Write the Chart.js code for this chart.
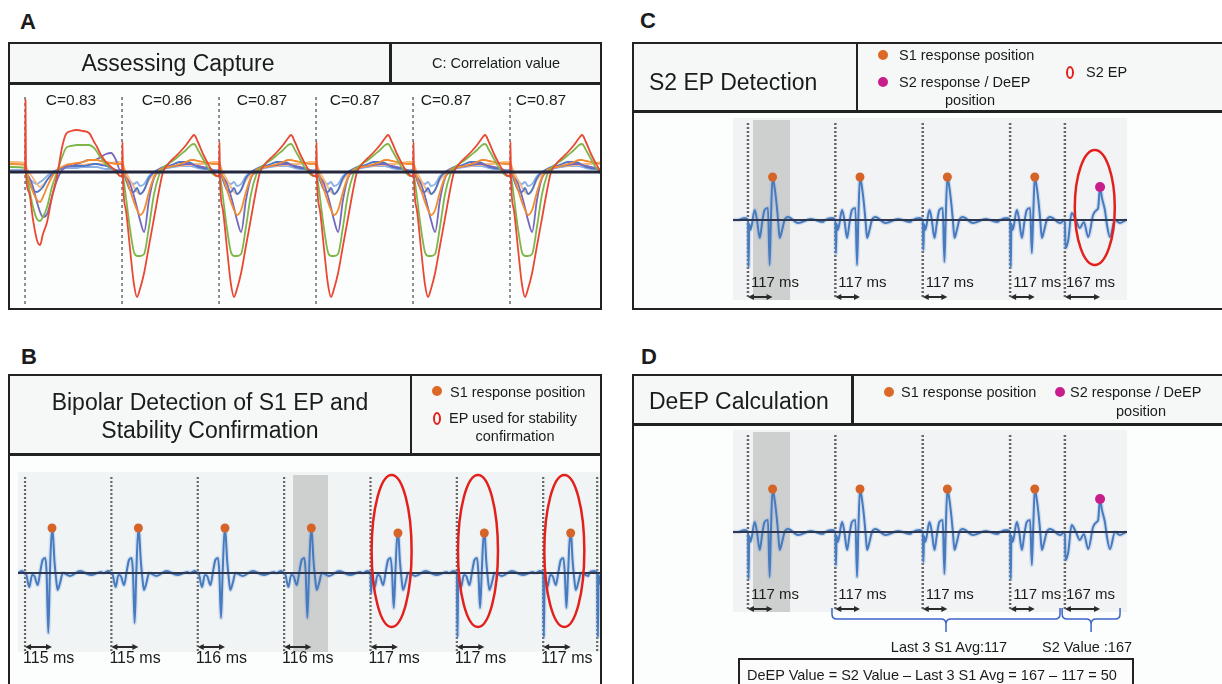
<!DOCTYPE html>
<html lang="en">
<head>
<meta charset="utf-8">
<title>EP detection steps</title>
<script src="https://cdn.jsdelivr.net/npm/chart.js"></script>
<style>
  body { margin: 0; background: #fff; font-family: "Liberation Sans", Arial, sans-serif; color: #1b1b1b; }
  #fig { position: relative; width: 1222px; height: 684px; overflow: hidden; }
  #fig div, #fig canvas { position: absolute; }
  .bg { background: #fcfdfd; }
  .hd { background: #f6f8f8; }
  .frame { border: 2.5px solid #222; box-sizing: border-box; }
  .ln { background: #222; }
  .t { white-space: nowrap; }
  .c { transform: translateX(-50%); }
  .panel { font-weight: bold; font-size: 22px; line-height: 26px; }
  .title { font-size: 23px; line-height: 28px; }
  .small { font-size: 14.5px; line-height: 18px; }
  .dot { border-radius: 50%; width: 10px; height: 10px; }
  .ring { border: 2.5px solid #e3211c; border-radius: 50%; width: 8px; height: 13px; box-sizing: border-box; }
</style>
</head>
<body>
<div id="fig">
  <!-- panel backgrounds -->
  <div class="bg" style="left:8px;top:42px;width:594px;height:268px"></div>
  <div class="hd" style="left:8px;top:42px;width:594px;height:42px"></div>
  <div class="bg" style="left:632px;top:42px;width:600px;height:268px"></div>
  <div class="hd" style="left:632px;top:42px;width:600px;height:70px"></div>
  <div class="bg" style="left:8px;top:374px;width:594px;height:330px"></div>
  <div class="hd" style="left:8px;top:374px;width:594px;height:81px"></div>
  <div class="bg" style="left:632px;top:374px;width:600px;height:330px"></div>
  <div class="hd" style="left:632px;top:374px;width:600px;height:51px"></div>

  <canvas id="cA" width="590" height="222" style="left:10px;top:85px"></canvas>
  <canvas id="cB" width="582" height="198" style="left:18px;top:472px"></canvas>
  <canvas id="cC" width="394" height="182" style="left:733px;top:118px"></canvas>
  <canvas id="cD" width="394" height="210" style="left:733px;top:430px"></canvas>

  <!-- frames -->
  <div class="frame" style="left:8px;top:42px;width:594px;height:268px"></div>
  <div class="ln" style="left:8px;top:82px;width:594px;height:2.5px"></div>
  <div class="ln" style="left:389px;top:42px;width:2.5px;height:42px"></div>

  <div class="frame" style="left:632px;top:42px;width:600px;height:268px"></div>
  <div class="ln" style="left:632px;top:110px;width:600px;height:2.5px"></div>
  <div class="ln" style="left:855.5px;top:42px;width:2.5px;height:70px"></div>

  <div class="frame" style="left:8px;top:374px;width:594px;height:330px"></div>
  <div class="ln" style="left:8px;top:453px;width:594px;height:2.5px"></div>
  <div class="ln" style="left:409.5px;top:374px;width:2.5px;height:81px"></div>

  <div class="frame" style="left:632px;top:374px;width:600px;height:330px"></div>
  <div class="ln" style="left:632px;top:423px;width:600px;height:2.5px"></div>
  <div class="ln" style="left:851px;top:374px;width:2.5px;height:51px"></div>

  <div class="frame" style="left:738px;top:658px;width:396px;height:40px;background:#fcfcfc"></div>

  <!-- panel letters -->
  <div class="t panel" style="left:20px;top:9px">A</div>
  <div class="t panel" style="left:21px;top:344px">B</div>
  <div class="t panel" style="left:640px;top:8px">C</div>
  <div class="t panel" style="left:641px;top:344px">D</div>

  <!-- A header -->
  <div class="t title c" style="left:178px;top:49px">Assessing Capture</div>
  <div class="t small c" style="left:496px;top:54px">C: Correlation value</div>

  <!-- C header -->
  <div class="t title" style="left:649px;top:68px">S2 EP Detection</div>
  <div class="dot" style="left:878px;top:50px;background:rgb(220,105,40)"></div>
  <div class="t small" style="left:899px;top:46px">S1 response position</div>
  <div class="dot" style="left:878px;top:77px;background:rgb(200,30,140)"></div>
  <div class="t small" style="left:899px;top:73px">S2 response / DeEP</div>
  <div class="t small c" style="left:970px;top:91px">position</div>
  <div class="ring" style="left:1066px;top:65.5px"></div>
  <div class="t small" style="left:1086px;top:63px">S2 EP</div>

  <!-- B header -->
  <div class="t title c" style="left:210px;top:388px">Bipolar Detection of S1 EP and</div>
  <div class="t title c" style="left:210px;top:416px">Stability Confirmation</div>
  <div class="dot" style="left:432px;top:386px;background:rgb(220,105,40)"></div>
  <div class="t small" style="left:450px;top:383px">S1 response position</div>
  <div class="ring" style="left:433px;top:411.5px"></div>
  <div class="t small" style="left:449px;top:409px">EP used for stability</div>
  <div class="t small c" style="left:515px;top:427px">confirmation</div>

  <!-- D header -->
  <div class="t title" style="left:649px;top:387px">DeEP Calculation</div>
  <div class="dot" style="left:884px;top:387px;background:rgb(220,105,40)"></div>
  <div class="t small" style="left:901px;top:383px">S1 response position</div>
  <div class="dot" style="left:1055px;top:387px;background:rgb(200,30,140)"></div>
  <div class="t small" style="left:1070px;top:383px">S2 response / DeEP</div>
  <div class="t small c" style="left:1141px;top:402px">position</div>

  <div class="t small c" style="left:949px;top:638px">Last 3 S1 Avg:117</div>
  <div class="t small c" style="left:1087px;top:638px">S2 Value :167</div>
  <div class="t small" style="left:747px;top:666px">DeEP Value = S2 Value – Last 3 S1 Avg = 167 – 117 = 50</div>
</div>

<script>
// ---------- Panel A: overlaid unipolar electrograms, 6 paced beats ----------
const stimA = [0, 400, 800, 1200, 1600, 2000];
const corrA = [0.83, 0.86, 0.87, 0.87, 0.87, 0.87];
const tA = [0, 2, 4, 16, 33, 49, 62, 74, 91, 111, 132, 153, 169, 190, 214, 239, 264, 285, 297, 313, 334, 355, 375, 392];
const redFirst    = [0, 72, -2, -20, -48, -68, -73, -62, -50, -25, -4, 25, 38, 41, 42, 41, 39, 30, 25, 17, 10, 5, 1, -4];
const redBeat     = [-4, 30, -8, -38, -77, -112, -125, -117, -101, -74, -46, -18, 0, 8, 14, 20, 27, 34, 37, 30, 18, 8, 0, -4];
const greenFirst  = [4, 3, 0, -15, -35, -47, -49, -45, -35, -15, 0, 15, 24, 26, 27, 27, 27, 24, 20, 14, 8, 4, 0, -4];
const greenBeat   = [-4, -2, -4, -25, -57, -80, -84, -84, -82, -55, -22, -3, 4, 8, 12, 17, 22, 27, 28, 22, 13, 4, -2, -4];
const orangeFirst = [7, 6, 4, -8, -20, -28, -30, -25, -15, -5, 2, 5, 7, 8, 9, 10, 12, 12, 12, 11, 10, 9, 8, 8];
const orangeBeat  = [8, 8, 6, -5, -18, -30, -38, -43, -38, -20, -5, 2, 4, 5, 6, 8, 10, 12, 12, 11, 10, 9, 8, 8];
const peachFirst  = [9, 8, 6, 0, -6, -12, -15, -13, -8, -3, 2, 5, 6, 6, 7, 7, 8, 8, 8, 8, 8, 9, 10, 10];
const peachBeat   = [10, 10, 8, 0, -8, -15, -20, -22, -18, -8, -2, 2, 4, 5, 6, 6, 7, 7, 8, 8, 8, 9, 10, 10];
const purpleFirst = [0, 0, -1, -5, -15, -30, -40, -45, -42, -25, -8, 2, 5, 6, 8, 10, 12, 12, 13, 15, 18, 19, 12, 2];
const purpleBeat  = [2, 0, -1, -5, -12, -24, -36, -48, -60, -28, -6, 0, 3, 5, 6, 7, 8, 8, 7, 6, 5, 4, 2, 0];
const blueFirst   = [0, 0, 0, -10, -18, -20, -18, -15, -8, -2, 2, 4, 6, 6, 6, 6, 7, 8, 8, 7, 6, 4, 2, 0];
const blueBeat    = [0, 0, 0, -8, -18, -20, -16, -22, -18, -6, 0, 3, 5, 6, 8, 10, 10, 9, 7, 5, 4, 3, 1, 0];
const skyFirst    = [2, 2, 0, -6, -10, -12, -10, -8, -4, 0, 2, 3, 4, 4, 4, 5, 5, 5, 5, 4, 3, 3, 2, 2];
const skyBeat     = [2, 2, 0, -5, -10, -12, -10, -14, -12, -4, 0, 2, 3, 4, 5, 6, 6, 6, 5, 4, 3, 3, 2, 2];
const preA = [0, 5, 8, 10, 0, 0, 2];

// ---------- Panel B: bipolar EP, 7 S1 beats + start of S2 ----------
const stimB = [0, 368, 736, 1104, 1472, 1840, 2208, 2438];
const latB = [115, 115, 116, 116, 117, 117, 117];
const tB = [-34, -13, 0, 3, 6, 18, 30, 40, 54, 64, 75, 86, 92, 99, 106, 115, 119, 125, 132, 139, 149, 161, 192, 234, 281, 324];
const beatB = [0, 2, 0, -50, -2, -14, -2, -3, -12, 0, 13, 15, 0, -38, 0, 45, 38, 13, -5, -17, -10, 0, -3, 2, -2, 1];
const artB = [0, 0, 0, 0, -20, -64, -64, -64];
const troughB = [-60, -50, -45, -45, -35, -35, -35, -35];
const peakB = [45, 45, 45, 45, 40, 40, 40, 40];
const stableB = [4, 5, 6];
const shadeB = [3];

// ---------- Panels C and D: 4 S1 beats + S2 ----------
const stimC = [0, 415, 830, 1245, 1505];
const latC = [117, 117, 117, 117, 167];
const tS1 = [-48, -14, 0, 3, 6, 12, 32, 43, 56, 67, 79, 95, 103, 109, 117, 124, 134, 143, 151, 162, 174, 190, 238, 299, 356];
const beatS1 = [0, 2, 0, -48, -4, -10, 10, 0, -18, -3, 10, 12, -45, 0, 43, 36, 20, 0, -18, -10, 0, 3, -3, 1, -2];
const artC = [-47, -33, -30, -47];
const troughC = [-45, -45, -42, -33];
const tS2 = [0, 3, 16, 32, 52, 71, 90, 111, 134, 151, 158, 167, 176, 190, 200, 214, 238, 261, 295, 333];
const beatS2 = [0, -28, -20, 7, 0, -8, -2, -17, 5, 10, 12, 33, 22, 10, -5, -17, 0, -3, 0, -2];
const s2Beat = 4;
const shadeC = [0];
const bracketD = [[399, 1482], [1492, 1767]];

// ---------- helpers ----------
function traceA(first, rest, pre, xmin) {
  const pts = [{ x: xmin, y: pre }];
  stimA.forEach((s, b) => {
    const vals = b === 0 ? first : rest;
    tA.forEach((t, i) => pts.push({ x: s + t, y: vals[i] }));
  });
  return pts;
}

function epTrace(stims, shapes, xmin) {
  const pts = [{ x: xmin, y: 0 }];
  stims.forEach((s, b) => {
    const [offs, vals] = shapes[b];
    const stop = b + 1 < stims.length ? stims[b + 1] + shapes[b + 1][0][0] : Infinity;
    offs.forEach((t, i) => { if (s + t < stop) pts.push({ x: s + t, y: vals[i] }); });
  });
  return pts;
}

function line(data, color, width, order, dash) {
  return { data, showLine: true, borderColor: color, borderWidth: width, pointRadius: 0, order,
    borderDash: dash || [], borderJoinStyle: 'round' };
}

function signal(data, color, width, order) {
  return Object.assign(line(data, color, width, order), { cubicInterpolationMode: 'monotone' });
}

function opts(xmin, xmax, ymin, ymax) {
  return {
    responsive: false, animation: false, devicePixelRatio: 1,
    layout: { padding: 0, autoPadding: false },
    plugins: { legend: { display: false }, tooltip: { enabled: false } },
    scales: {
      x: { type: 'linear', min: xmin, max: xmax, display: false },
      y: { type: 'linear', min: ymin, max: ymax, display: false }
    },
    elements: { line: { tension: 0 } }
  };
}

function overlay(cfg) {
  return {
    id: 'overlay',
    beforeDatasetsDraw(chart) {
      const { ctx, chartArea: a, scales: { x, y } } = chart;
      ctx.save();
      if (cfg.backdrop) {
        const t = y.getPixelForValue(cfg.backdrop.top), b = y.getPixelForValue(cfg.backdrop.bottom);
        ctx.fillStyle = cfg.backdrop.color;
        ctx.fillRect(a.left, t, a.right - a.left, b - t);
      }
      if (cfg.shade) {
        const t = y.getPixelForValue(cfg.shade.top), b = y.getPixelForValue(cfg.shade.bottom);
        ctx.fillStyle = 'rgba(198,198,198,0.8)';
        cfg.shade.spans.forEach(([x0, x1]) => {
          const p0 = x.getPixelForValue(x0), p1 = x.getPixelForValue(x1);
          ctx.fillRect(p0, t, p1 - p0, b - t);
        });
      }
      ctx.restore();
    },
    afterDatasetsDraw(chart) {
      const { ctx, scales: { x, y } } = chart;
      ctx.save();
      if (cfg.rings) {
        ctx.strokeStyle = '#e3211c';
        ctx.lineWidth = 2.5;
        cfg.rings.items.forEach(([cx, cy]) => {
          ctx.beginPath();
          ctx.ellipse(x.getPixelForValue(cx), y.getPixelForValue(cy), cfg.rings.rx, cfg.rings.ry, 0, 0, Math.PI * 2);
          ctx.stroke();
        });
      }
      if (cfg.arrows) {
        const yy = y.getPixelForValue(cfg.arrows.y);
        ctx.strokeStyle = ctx.fillStyle = '#2a2a2a';
        ctx.lineWidth = 2;
        cfg.arrows.items.forEach(([x0, x1]) => {
          const p0 = x.getPixelForValue(x0), p1 = x.getPixelForValue(x1);
          ctx.beginPath(); ctx.moveTo(p0 + 3, yy); ctx.lineTo(p1 - 3, yy); ctx.stroke();
          [[p0, -1], [p1, 1]].forEach(([pe, d]) => {
            ctx.beginPath(); ctx.moveTo(pe, yy); ctx.lineTo(pe - d * 6, yy - 3); ctx.lineTo(pe - d * 6, yy + 3); ctx.closePath(); ctx.fill();
          });
        });
      }
      if (cfg.labels) {
        const L = cfg.labels;
        ctx.fillStyle = '#1b1b1b';
        ctx.font = L.font;
        ctx.textAlign = L.align;
        ctx.textBaseline = 'middle';
        L.items.forEach(([xv, text, dx]) => ctx.fillText(text, x.getPixelForValue(xv) + dx, y.getPixelForValue(L.y)));
      }
      if (cfg.brackets) {
        const B = cfg.brackets, r = 5;
        const yt = y.getPixelForValue(B.top), ym = y.getPixelForValue(B.mid), yb = y.getPixelForValue(B.bot);
        ctx.strokeStyle = 'rgb(60,100,200)';
        ctx.lineWidth = 1.5;
        B.items.forEach(([x0, x1]) => {
          const p0 = x.getPixelForValue(x0), p1 = x.getPixelForValue(x1), pc = (p0 + p1) / 2;
          ctx.beginPath();
          ctx.moveTo(p0, yt); ctx.lineTo(p0, ym - r); ctx.quadraticCurveTo(p0, ym, p0 + r, ym);
          ctx.lineTo(pc - r, ym); ctx.quadraticCurveTo(pc, ym, pc, ym + r); ctx.lineTo(pc, yb);
          ctx.moveTo(p1, yt); ctx.lineTo(p1, ym - r); ctx.quadraticCurveTo(p1, ym, p1 - r, ym);
          ctx.lineTo(pc + r, ym); ctx.quadraticCurveTo(pc, ym, pc, ym + r);
          ctx.stroke();
        });
      }
      ctx.restore();
    }
  };
}

// ---------- Panel A ----------
const curvesA = [
  [redFirst, redBeat, 'rgb(232,72,52)'],
  [greenFirst, greenBeat, 'rgb(128,182,72)'],
  [orangeFirst, orangeBeat, 'rgb(242,140,48)'],
  [purpleFirst, purpleBeat, 'rgb(118,104,188)'],
  [blueFirst, blueBeat, 'rgb(78,118,200)'],
  [peachFirst, peachBeat, 'rgb(246,186,130)'],
  [skyFirst, skyBeat, 'rgb(140,175,228)']
];
const preOrder = [0, 1, 2, 4, 5, 3, 6];
const dsA = curvesA.map(([f, r, col], i) => signal(traceA(f, r, preA[preOrder[i]], -62), col, 1.8, i + 1));
dsA.push(line([{ x: -62, y: 0 }, { x: 2371, y: 0 }], 'rgb(35,38,60)', 3, 0));
stimA.forEach(s => dsA.push(line([{ x: s, y: 75 }, { x: s, y: -135 }], '#6a6a6a', 1.5, 20, [3, 3])));
const corrDx = [46, 45, 43, 39, 33, 31];

new Chart(document.getElementById('cA'), {
  type: 'scatter',
  data: { datasets: dsA },
  options: opts(-62, 2371, -135, 87),
  plugins: [overlay({
    labels: { y: 71, font: '15.5px "Liberation Sans"', align: 'center',
      items: stimA.map((s, i) => [s, 'C=' + corrA[i].toFixed(2), corrDx[i]]) }
  })]
});

// ---------- Panel B ----------
const shapesB = stimB.map((s, b) => {
  const v = beatB.slice();
  v[3] = artB[b]; v[13] = troughB[b]; v[15] = peakB[b];
  return [tB, v];
});
const sigB = epTrace(stimB, shapesB, -30);
const dsB = [
  { data: stimB.slice(0, latB.length).map((s, b) => ({ x: s + latB[b], y: peakB[b] })),
    pointRadius: 4.5, pointBackgroundColor: 'rgb(214,100,40)', pointBorderWidth: 0, order: 0 },
  line([{ x: -30, y: 0 }, { x: 2450, y: 0 }], 'rgb(45,55,80)', 2, 1),
  signal(sigB, 'rgb(72,122,190)', 2, 2),
  signal(sigB, 'rgba(130,170,222,0.28)', 4.5, 3)
];
stimB.forEach(s => dsB.push(line([{ x: s, y: 96 }, { x: s, y: -79 }], '#6b6661', 2.2, 4, [2, 2])));

new Chart(document.getElementById('cB'), {
  type: 'scatter',
  data: { datasets: dsB },
  options: opts(-30, 2450, -97, 101),
  plugins: [overlay({
    backdrop: { top: 101, bottom: -79, color: '#f1f4f5' },
    shade: { top: 98, bottom: -79, spans: shadeB.map(b => [stimB[b] + 38, stimB[b] + 187]) },
    rings: { rx: 20, ry: 76, items: stableB.map(b => [stimB[b] + 90, 22]) },
    arrows: { y: -74, items: latB.map((l, b) => [stimB[b], stimB[b] + l]) },
    labels: { y: -86, font: '16px "Liberation Sans"', align: 'left',
      items: latB.map((l, b) => [stimB[b], l + ' ms', -2]) }
  })]
});

// ---------- Panels C and D ----------
const shapesC = stimC.map((s, b) => {
  if (b === s2Beat) return [tS2, beatS2];
  const v = beatS1.slice();
  v[3] = artC[b]; v[12] = troughC[b];
  return [tS1, v];
});
const sigC = epTrace(stimC, shapesC, -71);
const peakS1 = Math.max(...beatS1), peakS2 = Math.max(...beatS2);

function epChart(id, ymin, extra) {
  const ds = [
    { data: stimC.map((s, b) => ({ x: s + latC[b], y: b === s2Beat ? peakS2 : peakS1 })),
      pointRadius: stimC.map((s, b) => b === s2Beat ? 5 : 4.5),
      pointBackgroundColor: stimC.map((s, b) => b === s2Beat ? 'rgb(200,30,140)' : 'rgb(214,100,40)'),
      pointBorderWidth: 0, order: 0 },
    line([{ x: -71, y: 0 }, { x: 1800, y: 0 }], 'rgb(45,55,80)', 2, 1),
    signal(sigC, 'rgb(72,122,190)', 2, 2),
    signal(sigC, 'rgba(130,170,222,0.28)', 4.5, 3)
  ];
  stimC.forEach(s => ds.push(line([{ x: s, y: 97 }, { x: s, y: -77 }], '#6b6661', 2.5, 4, [2, 2])));
  new Chart(document.getElementById(id), {
    type: 'scatter',
    data: { datasets: ds },
    options: opts(-71, 1800, ymin, 102),
    plugins: [overlay(Object.assign({
      backdrop: { top: 102, bottom: -80, color: '#f1f3f4' },
      shade: { top: 100, bottom: -80, spans: shadeC.map(b => [stimC[b] + 24, stimC[b] + 200]) },
      arrows: { y: -77, items: latC.map((l, b) => [stimC[b], stimC[b] + l]) },
      labels: { y: -63, font: '15px "Liberation Sans"', align: 'left',
        items: latC.map((l, b) => [stimC[b], l + ' ms', b === s2Beat ? 1 : 3]) }
    }, extra))]
  });
}

epChart('cC', -80, { rings: { rx: 20, ry: 57.5, items: [[stimC[s2Beat] + 142, 12.5]] } });
epChart('cD', -108, { brackets: { top: -76, mid: -87, bot: -100, items: bracketD } });
</script>
</body>
</html>
